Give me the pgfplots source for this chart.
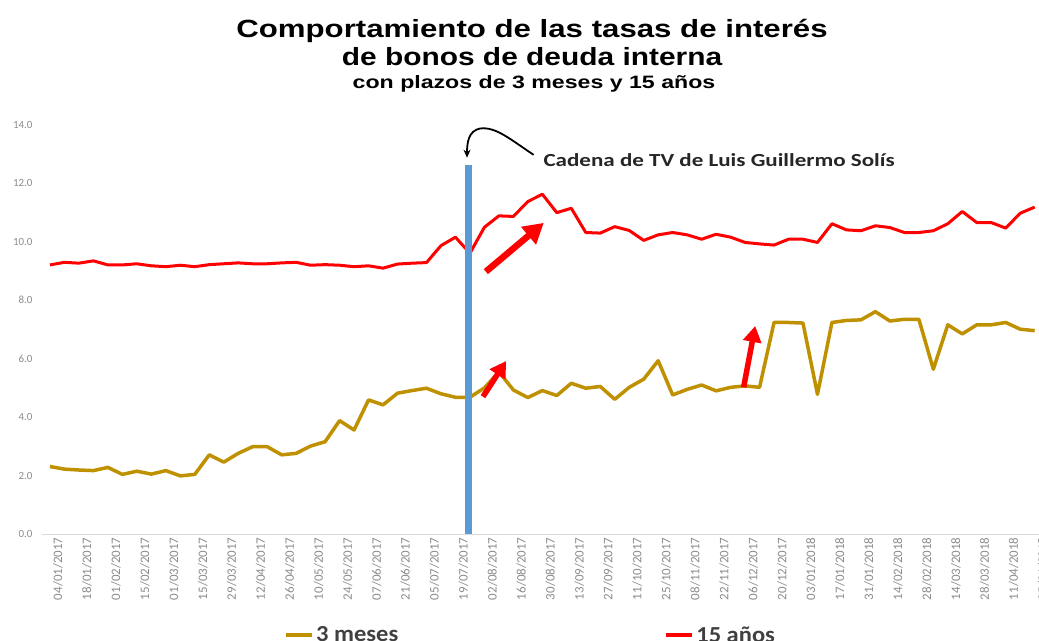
\documentclass[border=0pt]{standalone}
\usepackage{pgfplots}
\pgfplotsset{compat=1.18}
\usepackage{pgfplotstable}
\usepackage{graphicx}
\usepackage{fontspec}
\setmainfont{Carlito}
\newfontfamily\arialfont{Liberation Sans}
\usetikzlibrary{arrows.meta}
\definecolor{gold}{HTML}{BF9000}
\definecolor{barblue}{HTML}{5B9BD5}
\definecolor{tickgray}{HTML}{8C8C8C}
\definecolor{txt}{HTML}{404040}
\definecolor{axgray}{HTML}{D9D9D9}

\pgfplotstableread{
i m3 a15
0 2.31 9.21
1 2.22 9.30
2 2.19 9.27
3 2.17 9.35
4 2.28 9.21
5 2.04 9.21
6 2.15 9.25
7 2.05 9.18
8 2.17 9.15
9 1.99 9.20
10 2.04 9.15
11 2.71 9.22
12 2.46 9.25
13 2.76 9.28
14 2.99 9.25
15 2.99 9.25
16 2.71 9.28
17 2.76 9.30
18 3.01 9.20
19 3.16 9.22
20 3.88 9.20
21 3.56 9.15
22 4.59 9.18
23 4.42 9.10
24 4.82 9.24
25 4.91 9.27
26 4.99 9.29
27 4.80 9.87
28 4.68 10.16
29 4.68 9.61
30 5.00 10.50
31 5.55 10.89
32 4.93 10.87
33 4.67 11.38
34 4.91 11.63
35 4.74 11.00
36 5.16 11.15
37 4.99 10.32
38 5.05 10.30
39 4.61 10.52
40 5.02 10.39
41 5.30 10.05
42 5.93 10.24
43 4.76 10.32
44 4.95 10.24
45 5.10 10.09
46 4.90 10.26
47 5.02 10.16
48 5.07 9.98
49 5.02 9.93
50 7.24 9.89
51 7.24 10.09
52 7.22 10.09
53 4.78 9.98
54 7.24 10.62
55 7.31 10.41
56 7.33 10.38
57 7.61 10.55
58 7.29 10.49
59 7.35 10.32
60 7.35 10.32
61 5.64 10.38
62 7.16 10.62
63 6.85 11.04
64 7.16 10.66
65 7.16 10.66
66 7.24 10.47
67 7.01 10.98
68 6.96 11.19
}\datatable

\begin{document}
\begin{tikzpicture}
\useasboundingbox (0,0) rectangle (1039bp,641bp);
\node[anchor=base, font=\arialfont\bfseries\fontsize{25}{25}\selectfont] at (532bp,603bp) {\scalebox{1.253}[1]{Comportamiento de las tasas de interés}};
\node[anchor=base, font=\arialfont\bfseries\fontsize{25}{25}\selectfont] at (532bp,575bp) {\scalebox{1.2}[1]{de bonos de deuda interna}};
\node[anchor=base, font=\arialfont\bfseries\fontsize{18}{18}\selectfont] at (534bp,552bp) {\scalebox{1.29}[1]{con plazos de 3 meses y 15 años}};
\begin{axis}[
  at={(42bp,107bp)}, anchor=south west, scale only axis,
  width=997bp, height=409bp,
  xmin=-0.55, xmax=68.3, ymin=0, ymax=14,
  axis x line*=bottom, axis y line*=left,
  x axis line style={draw=axgray, line width=1bp, -},
  y axis line style={draw=none},
  major tick length=0pt,
  ytick={0,2,...,14},
  /pgf/number format/.cd, fixed, fixed zerofill, precision=1, assume math mode=true,
  /pgfplots/.cd,
  yticklabel style={font=\fontsize{11}{11}\selectfont, text=tickgray, xshift=-6bp},
  xtick={0,2,...,68},
  xticklabels={04/01/2017,18/01/2017,01/02/2017,15/02/2017,01/03/2017,15/03/2017,29/03/2017,12/04/2017,26/04/2017,10/05/2017,24/05/2017,07/06/2017,21/06/2017,05/07/2017,19/07/2017,02/08/2017,16/08/2017,30/08/2017,13/09/2017,27/09/2017,11/10/2017,25/10/2017,08/11/2017,22/11/2017,06/12/2017,20/12/2017,03/01/2018,17/01/2018,31/01/2018,14/02/2018,28/02/2018,14/03/2018,28/03/2018,11/04/2018,25/04/2018},
  xticklabel style={rotate=90, anchor=east, font=\fontsize{13}{13}\selectfont, text=tickgray, yshift=-8bp},
  clip=false,
  legend columns=2,
  legend style={at={(0.2427,-0.2475)}, anchor=west, draw=none, fill=none,
    inner sep=0pt, font=\bfseries\fontsize{23}{23}\selectfont, text=txt,
    /tikz/every even column/.append style={column sep=264bp}},
  legend image code/.code={\draw[#1, line width=4bp] (0bp,0bp) -- (26bp,0bp);},
]
\addplot[gold, line width=3.5bp, line join=round] table[x=i, y=m3] {\datatable};
\addlegendentry{\scalebox{1.07}[1]{3 meses}}
\addplot[red, line width=3bp, line join=round] table[x=i, y=a15] {\datatable};
\addlegendentry{\scalebox{1.07}[1]{15 años}}
\addplot[barblue, line width=7bp, forget plot] coordinates {(28.87,0) (28.87,12.64)};
\addplot[red, line width=6.5bp, forget plot, -{Triangle[length=20bp, width=22bp]}] coordinates {(30.1,8.98) (34.1,10.65)};
\addplot[red, line width=5.5bp, forget plot, -{Triangle[length=16bp, width=18bp]}] coordinates {(29.9,4.70) (31.5,5.92)};
\addplot[red, line width=5.5bp, forget plot, -{Triangle[length=16bp, width=18bp]}] coordinates {(47.9,5.02) (48.7,7.12)};
\draw[black, line width=1.8bp, -{Stealth[length=8bp, width=7bp]}] (axis cs:33.4,12.98) .. controls (axis cs:31.8,13.5) and (axis cs:30.8,13.95) .. (axis cs:29.7,13.88) .. controls (axis cs:28.9,13.8) and (axis cs:28.8,13.4) .. (axis cs:28.8,12.88);
\node[anchor=base west, font=\bfseries\fontsize{18.5}{18.5}\selectfont, text=black!85] at (axis cs:33.84,12.58) {\scalebox{1.25}[1]{Cadena de TV de Luis Guillermo Solís}};
\end{axis}
\end{tikzpicture}
\end{document}
